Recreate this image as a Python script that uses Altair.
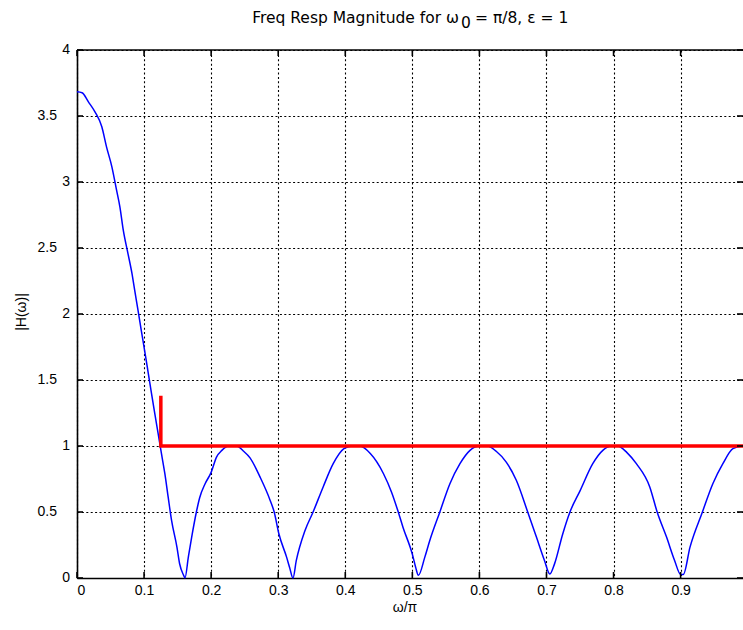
import altair as alt
import pandas as pd

# Frequency response magnitude |H(w)| sampled along w/pi
freq = [0.000, 0.0075, 0.017, 0.027, 0.037, 0.044, 0.052, 0.059, 0.064, 0.069,
        0.076, 0.082, 0.086, 0.091, 0.096, 0.099, 0.106, 0.111, 0.116, 0.121,
        0.126, 0.131, 0.136, 0.141, 0.149, 0.153, 0.159, 0.161, 0.166, 0.171,
        0.178, 0.183, 0.191, 0.200, 0.208, 0.216, 0.226, 0.238, 0.248, 0.258,
        0.273, 0.288, 0.294, 0.301, 0.3125, 0.317, 0.322, 0.327, 0.340, 0.352,
        0.367, 0.382, 0.398, 0.410, 0.422, 0.437, 0.457, 0.469, 0.479, 0.486,
        0.500, 0.505, 0.509, 0.5186, 0.526, 0.541, 0.556, 0.571, 0.586, 0.600,
        0.612, 0.625, 0.640, 0.655, 0.672, 0.685, 0.697, 0.705, 0.712, 0.724,
        0.735, 0.750, 0.769, 0.784, 0.797, 0.806, 0.820, 0.834, 0.854, 0.865,
        0.879, 0.891, 0.900, 0.904, 0.914, 0.9325, 0.948, 0.963, 0.978, 0.992]
mag = [3.683, 3.676, 3.607, 3.530, 3.418, 3.266, 3.115, 2.938, 2.810, 2.635,
       2.458, 2.306, 2.180, 2.028, 1.870, 1.780, 1.560, 1.400, 1.245, 1.093,
       0.940, 0.790, 0.610, 0.436, 0.234, 0.108, 0.020, 0.000, 0.158, 0.310,
       0.500, 0.610, 0.714, 0.800, 0.916, 0.967, 1.000, 1.000, 0.962, 0.910,
       0.764, 0.588, 0.500, 0.335, 0.158, 0.080, 0.000, 0.133, 0.360, 0.500,
       0.690, 0.866, 0.980, 1.000, 1.000, 0.945, 0.790, 0.650, 0.500, 0.385,
       0.180, 0.080, 0.020, 0.158, 0.284, 0.500, 0.714, 0.866, 0.967, 1.000,
       1.000, 0.960, 0.878, 0.740, 0.500, 0.310, 0.133, 0.030, 0.107, 0.330,
       0.500, 0.660, 0.866, 0.967, 1.000, 1.000, 0.950, 0.866, 0.690, 0.500,
       0.310, 0.133, 0.027, 0.027, 0.234, 0.500, 0.714, 0.866, 0.980, 1.000]

# Specification: cutoff at w0 = pi/8, unit bound above it
spec_freq = [0.125, 0.125, 0.993]
spec_mag = [1.38, 1.0, 1.0]

x_ticks = [0, 0.1, 0.2, 0.3, 0.4, 0.5, 0.6, 0.7, 0.8, 0.9]
y_ticks = [0, 0.5, 1, 1.5, 2, 2.5, 3, 3.5, 4]
y_tick_labels = ["0", "0.5", "1", "1.5", "2", "2.5", "3", "3.5", "4"]
X_MAX = 0.993

W, H = 666, 528
FONT = "Liberation Sans"

resp = pd.DataFrame({"freq": freq, "mag": mag})
spec = pd.DataFrame({"freq": spec_freq, "mag": spec_mag, "k": list(range(len(spec_freq)))})
xt = pd.DataFrame({"freq": x_ticks})
yt = pd.DataFrame({"mag": y_ticks, "lab": y_tick_labels})
one = pd.DataFrame({"t": [""]})

xscale = alt.Scale(domain=[0, X_MAX], nice=False, zero=False)
yscale = alt.Scale(domain=[0, 4], nice=False, zero=False)

grid_style = dict(grid=True, gridColor="black", gridDash=[2, 2.4], gridWidth=1.1,
                  gridOpacity=1, ticks=False, domainColor="black", domainWidth=1.6,
                  labelFont=FONT, labelFontSize=14, labelColor="black", title=None)

xaxis = alt.Axis(values=x_ticks, format="~g", labelPadding=5, labelBaseline="top", **grid_style)
yaxis = alt.Axis(values=y_ticks, labels=False, **grid_style)

X = alt.X("freq:Q", scale=xscale, axis=xaxis)
Y = alt.Y("mag:Q", scale=yscale, axis=yaxis)

response = alt.Chart(resp).mark_line(
    color="#0000ff", strokeWidth=1.5, interpolate="monotone").encode(x=X, y=Y)

limit = alt.Chart(spec).mark_line(color="#ff0000", strokeWidth=3.5).encode(
    x=X, y=Y, order="k:Q")

# inward tick marks on all four sides
tick = dict(color="black", strokeWidth=1.6)
bottom_ticks = alt.Chart(xt).mark_rule(**tick).encode(x=X, y=alt.value(H), y2=alt.value(H - 6))
top_ticks = alt.Chart(xt).mark_rule(**tick).encode(x=X, y=alt.value(0), y2=alt.value(6))
left_ticks = alt.Chart(yt).mark_rule(**tick).encode(y=Y, x=alt.value(0), x2=alt.value(6))
right_ticks = alt.Chart(yt).mark_rule(**tick).encode(y=Y, x=alt.value(W - 6), x2=alt.value(W))
top_border = alt.Chart(one).mark_rule(**tick).encode(
    x=alt.value(0), x2=alt.value(W), y=alt.value(0))

# y tick labels: whole numbers sit closer to the axis than the halves
label_font = dict(font=FONT, fontSize=14, color="black", baseline="middle", align="right")
y_labels_int = alt.Chart(yt).transform_filter("datum.mag % 1 == 0").mark_text(
    **label_font).encode(y=Y, x=alt.value(-7), text="lab:N")
y_labels_half = alt.Chart(yt).transform_filter("datum.mag % 1 != 0").mark_text(
    **label_font).encode(y=Y, x=alt.value(-20), text="lab:N")

title_font = dict(font="DejaVu Sans", fontSize=15.5, color="black", baseline="alphabetic")
title_a = alt.Chart(one).mark_text(align="right", **title_font).encode(
    x=alt.value(382), y=alt.value(-27), text=alt.value("Freq Resp Magnitude for ω"))
title_sub = alt.Chart(one).mark_text(align="left", **title_font).encode(
    x=alt.value(384), y=alt.value(-22), text=alt.value("0"))
title_b = alt.Chart(one).mark_text(align="left", **title_font).encode(
    x=alt.value(398), y=alt.value(-27), text=alt.value("= π/8, ε = 1"))

x_title = alt.Chart(one).mark_text(font=FONT, fontSize=14, color="black", baseline="middle").encode(
    x=alt.value(328), y=alt.value(558), text=alt.value("ω/π"))
y_title = alt.Chart(one).mark_text(font=FONT, fontSize=14, color="black", baseline="middle",
                                   angle=270).encode(
    x=alt.value(-55), y=alt.value(262), text=alt.value("|H(ω)|"))

chart = alt.layer(
    response, limit, bottom_ticks, top_ticks, left_ticks, right_ticks, top_border,
    y_labels_int, y_labels_half, title_a, title_sub, title_b, x_title, y_title,
).properties(
    width=W, height=H, autosize="none",
    padding={"left": 77, "top": 50, "right": 0, "bottom": 52},
    background="white",
).configure_view(stroke=None)

chart.save("out.html", embed_options={"renderer": "svg", "actions": False})
